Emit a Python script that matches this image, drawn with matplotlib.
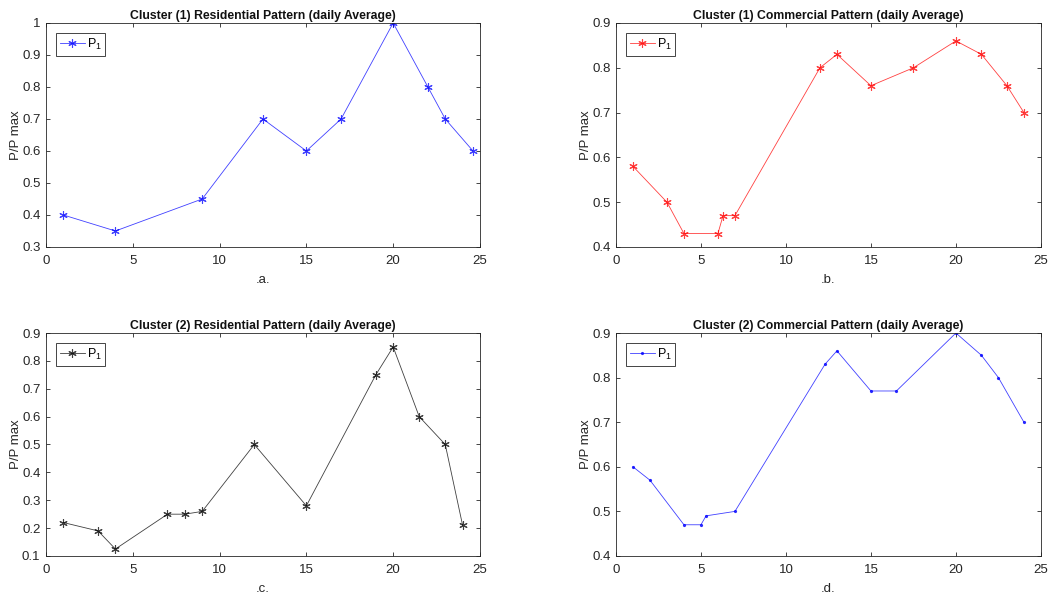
import matplotlib
matplotlib.use("Agg")
import matplotlib.pyplot as plt

plt.rcParams['font.family'] = ['Liberation Sans', 'DejaVu Sans']
plt.rcParams['mathtext.fontset'] = 'custom'
plt.rcParams['mathtext.rm'] = 'Liberation Sans'
plt.rcParams['mathtext.it'] = 'Liberation Sans'

# cluster (1) residential
res1_x = [1, 4, 9, 12.5, 15, 17, 20, 22, 23, 24.6]
res1_y = [0.4, 0.35, 0.45, 0.7, 0.6, 0.7, 1.0, 0.8, 0.7, 0.6]

# cluster (1) commercial
com1_x = [1, 3, 4, 6, 6.3, 7, 12, 13, 15, 17.5, 20, 21.5, 23, 24]
com1_y = [0.58, 0.5, 0.43, 0.43, 0.47, 0.47, 0.8, 0.83, 0.76, 0.8, 0.86, 0.83, 0.76, 0.7]

# cluster (2) residential
res2_x = [1, 3, 4, 7, 8, 9, 12, 15, 19, 20, 21.5, 23, 24]
res2_y = [0.22, 0.19, 0.125, 0.25, 0.25, 0.26, 0.5, 0.28, 0.75, 0.85, 0.6, 0.5, 0.21]

# cluster (2) commercial
com2_x = [1, 2, 4, 5, 5.3, 7, 12.3, 13, 15, 16.5, 20, 21.5, 22.5, 24]
com2_y = [0.6, 0.57, 0.47, 0.47, 0.49, 0.5, 0.83, 0.86, 0.77, 0.77, 0.9, 0.85, 0.8, 0.7]

asterisk = (6, 2, 0)

fig = plt.figure(figsize=(10.64, 5.97), dpi=100)

panels = [
    ([0.0432, 0.5863, 0.4079, 0.3752], res1_x, res1_y, '#0000ff', asterisk, 6,
     'Cluster (1) Residential Pattern (daily Average)', '.a.', (0.3, 1.0), [0.3 + 0.1 * i for i in range(8)]),
    ([0.5789, 0.5863, 0.3994, 0.3752], com1_x, com1_y, '#ff0000', asterisk, 6,
     'Cluster (1) Commercial Pattern (daily Average)', '.b.', (0.4, 0.9), [0.4 + 0.1 * i for i in range(6)]),
    ([0.0432, 0.0687, 0.4079, 0.3735], res2_x, res2_y, '#000000', asterisk, 6,
     'Cluster (2) Residential Pattern (daily Average)', '.c.', (0.1, 0.9), [0.1 + 0.1 * i for i in range(9)]),
    ([0.5789, 0.0687, 0.3994, 0.3735], com2_x, com2_y, '#0000ff', '.', 3,
     'Cluster (2) Commercial Pattern (daily Average)', '.d.', (0.4, 0.9), [0.4 + 0.1 * i for i in range(6)]),
]

grey = '#262626'
for rect, x, y, col, mk, ms, title, xlab, ylim, yt in panels:
    ax = fig.add_axes(rect)
    ax.plot(x, y, color=col, linewidth=0.6, alpha=0.75, marker=mk, markersize=ms,
            markeredgewidth=0.8, markeredgecolor=col, markerfacecolor=col, label='P$_1$')
    ax.set_xlim(0, 25)
    ax.set_ylim(*ylim)
    ax.set_xticks([0, 5, 10, 15, 20, 25])
    ax.set_yticks([round(v, 1) for v in yt])
    ax.set_yticklabels(['%g' % round(v, 1) for v in yt])
    ax.tick_params(direction='in', top=True, right=True, labelsize=9.5, colors=grey,
                   length=3, width=0.6)
    ax.tick_params(axis='x', pad=6)
    ax.tick_params(axis='y', pad=4)
    for s in ax.spines.values():
        s.set_color(grey)
        s.set_linewidth(0.6)
    ax.set_title(title, fontsize=8.8, fontweight='bold', color='#111111', pad=3)
    ax.set_xlabel(xlab, fontsize=9.5, color=grey, labelpad=5)
    ax.set_ylabel('P/P max', fontsize=9.5, color=grey, labelpad=0)
    leg = ax.legend(loc='upper left', fontsize=9, fancybox=False, framealpha=1,
                    handlelength=2.0, borderpad=0.3, handletextpad=0.15,
                    borderaxespad=0.8)
    leg.get_frame().set_edgecolor(grey)
    leg.get_frame().set_linewidth(0.6)

fig.savefig('out.png', dpi=100)
